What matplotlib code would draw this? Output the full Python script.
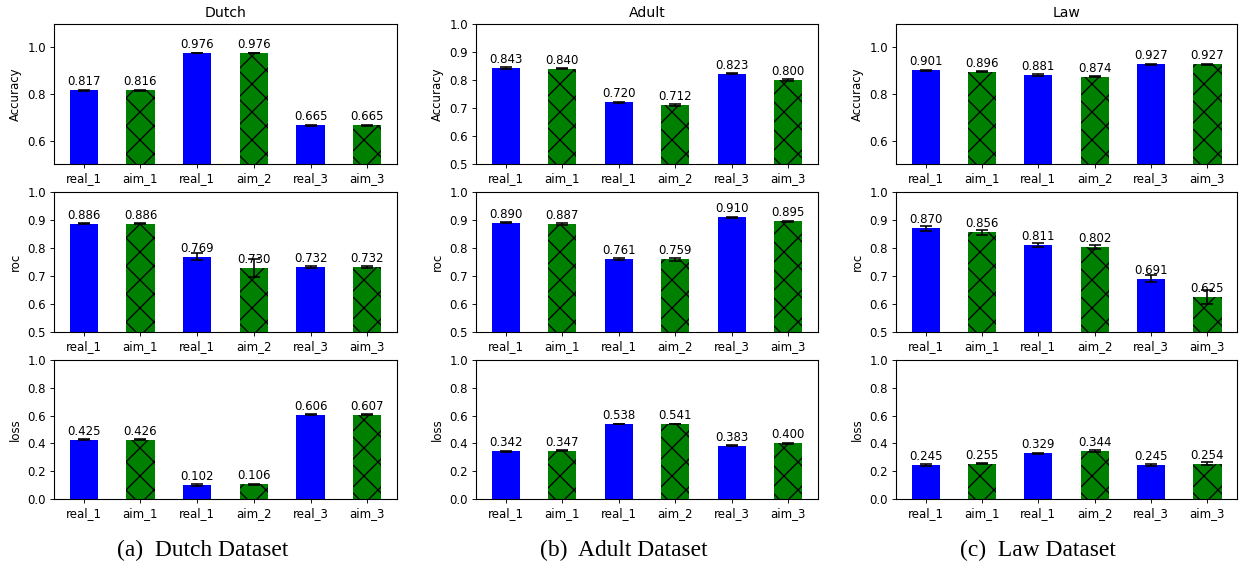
import numpy as np
import matplotlib
matplotlib.use('Agg')
import matplotlib.pyplot as plt

# rendered at 168 dpi, sizes below are given in output pixels and turned into points
DPI = 168
W, H = 1239, 567

def pt(px):
	return px * 72.0 / DPI

plt.rcParams['font.family'] = 'DejaVu Sans'
plt.rcParams['hatch.linewidth'] = pt(1.3)
plt.rcParams['hatch.color'] = 'black'

labels = ['real_1', 'aim_1', 'real_1', 'aim_2', 'real_3', 'aim_3']
colors = ['blue', 'green', 'blue', 'green', 'blue', 'green']
hatches = ['', 'xx', '', 'xx', '', 'xx']

datasets = ['Dutch', 'Adult', 'Law']
captions = ['(a)  Dutch Dataset', '(b)  Adult Dataset', '(c)  Law Dataset']
metrics = ['Accuracy', 'roc', 'loss']

dutch_acc = [0.817, 0.816, 0.976, 0.976, 0.665, 0.665]
dutch_acc_err = [0.002, 0.002, 0.001, 0.001, 0.002, 0.002]
dutch_roc = [0.886, 0.886, 0.769, 0.730, 0.732, 0.732]
dutch_roc_err = [0.002, 0.002, 0.012, 0.032, 0.004, 0.004]
dutch_loss = [0.425, 0.426, 0.102, 0.106, 0.606, 0.607]
dutch_loss_err = [0.004, 0.003, 0.005, 0.002, 0.002, 0.002]

adult_acc = [0.843, 0.840, 0.720, 0.712, 0.823, 0.800]
adult_acc_err = [0.002, 0.002, 0.002, 0.004, 0.002, 0.004]
adult_roc = [0.890, 0.887, 0.761, 0.759, 0.910, 0.895]
adult_roc_err = [0.002, 0.004, 0.004, 0.005, 0.002, 0.001]
adult_loss = [0.342, 0.347, 0.538, 0.541, 0.383, 0.400]
adult_loss_err = [0.004, 0.004, 0.002, 0.002, 0.003, 0.005]

law_acc = [0.901, 0.896, 0.881, 0.874, 0.927, 0.927]
law_acc_err = [0.003, 0.003, 0.003, 0.003, 0.003, 0.003]
law_roc = [0.870, 0.856, 0.811, 0.802, 0.691, 0.625]
law_roc_err = [0.009, 0.009, 0.008, 0.007, 0.014, 0.026]
law_loss = [0.245, 0.255, 0.329, 0.344, 0.245, 0.254]
law_loss_err = [0.005, 0.005, 0.005, 0.008, 0.008, 0.009]

values = [
	[(dutch_acc, dutch_acc_err), (dutch_roc, dutch_roc_err), (dutch_loss, dutch_loss_err)],
	[(adult_acc, adult_acc_err), (adult_roc, adult_roc_err), (adult_loss, adult_loss_err)],
	[(law_acc, law_acc_err), (law_roc, law_roc_err), (law_loss, law_loss_err)],
]

ylims = [
	[(0.5, 1.1), (0.5, 1.0), (0.0, 1.0)],
	[(0.5, 1.0), (0.5, 1.0), (0.0, 1.0)],
	[(0.5, 1.1), (0.5, 1.0), (0.0, 1.0)],
]
yticks = [
	[[0.6, 0.8, 1.0], np.arange(0.5, 1.01, 0.1), np.arange(0, 1.01, 0.2)],
	[np.arange(0.5, 1.01, 0.1), np.arange(0.5, 1.01, 0.1), np.arange(0, 1.01, 0.2)],
	[[0.6, 0.8, 1.0], np.arange(0.5, 1.01, 0.1), np.arange(0, 1.01, 0.2)],
]

# axes boxes in pixels
col_x = [(54, 397), (476, 818), (896, 1237)]
row_y = [(24, 164), (192, 332), (360, 499)]
caption_x = [203, 624, 1038]

fs = pt(11.8)

fig = plt.figure(figsize=(W / DPI, H / DPI), dpi=DPI)

x = np.arange(len(labels))
for c in range(3):
	for r in range(3):
		x0, x1 = col_x[c]
		y0, y1 = row_y[r]
		ax = fig.add_axes([x0 / W, 1 - y1 / H, (x1 - x0) / W, (y1 - y0) / H])
		vals, errs = values[c][r]
		ax.bar(x, vals, 0.5, color=colors, hatch=hatches, yerr=errs,
			error_kw=dict(ecolor='black', elinewidth=pt(1.6), capsize=pt(6), capthick=pt(1.6)))
		for xi, v in zip(x, vals):
			ax.annotate('%.3f' % v, (xi, v), xytext=(0, pt(2)), textcoords='offset points',
				ha='center', va='bottom', fontsize=fs)
		ax.set_ylim(*ylims[c][r])
		ax.set_yticks(yticks[c][r])
		ax.set_yticklabels(['%.1f' % t for t in yticks[c][r]])
		ax.set_xticks(x)
		ax.set_xticklabels(labels)
		ax.tick_params(labelsize=fs, length=pt(4), width=pt(0.9), pad=pt(4))
		for s in ax.spines.values():
			s.set_linewidth(pt(1.1))
		ax.set_ylabel(metrics[r], fontsize=fs, labelpad=pt(5))
		if r == 0:
			ax.set_title(datasets[c], fontsize=pt(14), pad=pt(7))
	fig.text(caption_x[c] / W, 1 - 550 / H, captions[c], ha='center', va='center',
		fontsize=pt(23.5), family='Liberation Serif')

fig.savefig('out.png', dpi=DPI)
